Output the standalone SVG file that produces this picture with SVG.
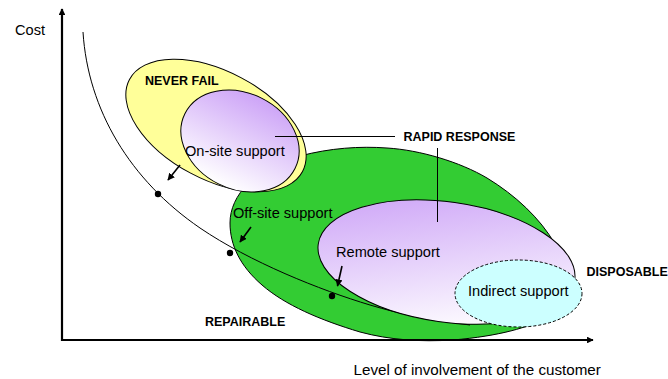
<svg xmlns="http://www.w3.org/2000/svg" width="668" height="379" viewBox="0 0 668 379">
<defs>
<style>
.lbl{font-family:"Liberation Sans",Arial,sans-serif;font-size:14.6px;fill:#000}
.bold{font-family:"Liberation Sans",Arial,sans-serif;font-size:12.5px;font-weight:bold;fill:#000}
.sh{stroke:#000;stroke-width:1}
.thin{stroke:#000;stroke-width:1;fill:none}
.arr{stroke:#000;stroke-width:1.6;fill:none;marker-end:url(#ah)}
.axis{stroke:#000;stroke-width:2.2;fill:none;marker-end:url(#ax)}
</style>
<linearGradient id="gOn" x1="0" y1="0" x2="0" y2="1">
<stop offset="0" stop-color="#cda4f7"/>
<stop offset="1" stop-color="#ffffff"/>
</linearGradient>
<linearGradient id="gRem" x1="0.15" y1="0" x2="0.75" y2="1">
<stop offset="0" stop-color="#cda4f7"/>
<stop offset="1" stop-color="#ffffff"/>
</linearGradient>
<marker id="ah" viewBox="0 0 10 10" refX="9" refY="5" markerWidth="4.5" markerHeight="4.5" orient="auto" markerUnits="strokeWidth">
<path d="M0,0 L10,5 L0,10 Z" fill="#000"/>
</marker>
<marker id="ax" viewBox="0 0 10 10" refX="9" refY="5" markerWidth="3.2" markerHeight="3" orient="auto" markerUnits="strokeWidth">
<path d="M0,0 L10,5 L0,10 Z" fill="#000"/>
</marker>
</defs>

<g id="rapid-response">
<path class="sh" fill="#33cc33" d="M230,223 C230,195 255,168 300,156 C330,148 360,146 387,148 C420,150 460,162 487,178 C515,195 540,218 555,244 C570,270 575,300 545,318 C530,327 500,336 453,340 C420,342 390,340 360,332 C320,320 285,305 262,285 C240,266 230,245 230,223 Z"/>
</g>

<g id="never-fail">
<ellipse class="sh" fill="#ffff99" cx="216" cy="125.5" rx="98" ry="54" transform="rotate(28 216 125.5)"/>
</g>

<g id="on-site">
<ellipse class="sh" fill="url(#gOn)" cx="240" cy="141" rx="61.5" ry="48" transform="rotate(26.6 240 141)"/>
</g>

<g id="connectors">
<path class="thin" d="M83,32 C88,110 130,180 200,228 C250,262 320,290 370,305 C400,314 430,320 470,325"/>
<circle cx="158" cy="194" r="3.2" fill="#000"/>
<circle cx="230" cy="253" r="3.2" fill="#000"/>
<circle cx="332" cy="296" r="3.2" fill="#000"/>
<path class="arr" d="M180,165 L168,180"/>
<path class="arr" d="M251,227 L240,242"/>
</g>

<g id="remote">
<ellipse class="sh" fill="url(#gRem)" cx="446.5" cy="262" rx="129.5" ry="60" transform="rotate(8 446.5 262)"/>
</g>

<g id="indirect">
<ellipse fill="#ccffff" stroke="#000" stroke-width="1" stroke-dasharray="3,2" cx="518.5" cy="293.5" rx="63.5" ry="33.5"/>
</g>

<g id="labels-lines">
<path class="arr" d="M342,266 L337.5,286"/>
<line class="thin" x1="275" y1="136.5" x2="395" y2="136.5"/>
<line class="thin" x1="437.5" y1="148" x2="437.5" y2="222"/>
</g>

<g id="texts">
<text class="lbl" x="15" y="35">Cost</text>
<text class="bold" x="145" y="85">NEVER FAIL</text>
<text class="lbl" x="185" y="156">On-site support</text>
<text class="bold" x="403.5" y="140.5">RAPID RESPONSE</text>
<text class="lbl" x="233" y="218">Off-site support</text>
<text class="lbl" x="336" y="257">Remote support</text>
<text class="bold" x="586.5" y="275.5">DISPOSABLE</text>
<text class="lbl" x="468" y="296">Indirect support</text>
<text class="bold" x="205" y="326">REPAIRABLE</text>
<text class="lbl" x="353.5" y="375" style="font-size:15.2px">Level of involvement of the customer</text>
</g>

<g id="axes">
<path class="axis" d="M62,341 L62,9"/>
<path class="axis" d="M61,340 L593,340"/>
</g>
</svg>
